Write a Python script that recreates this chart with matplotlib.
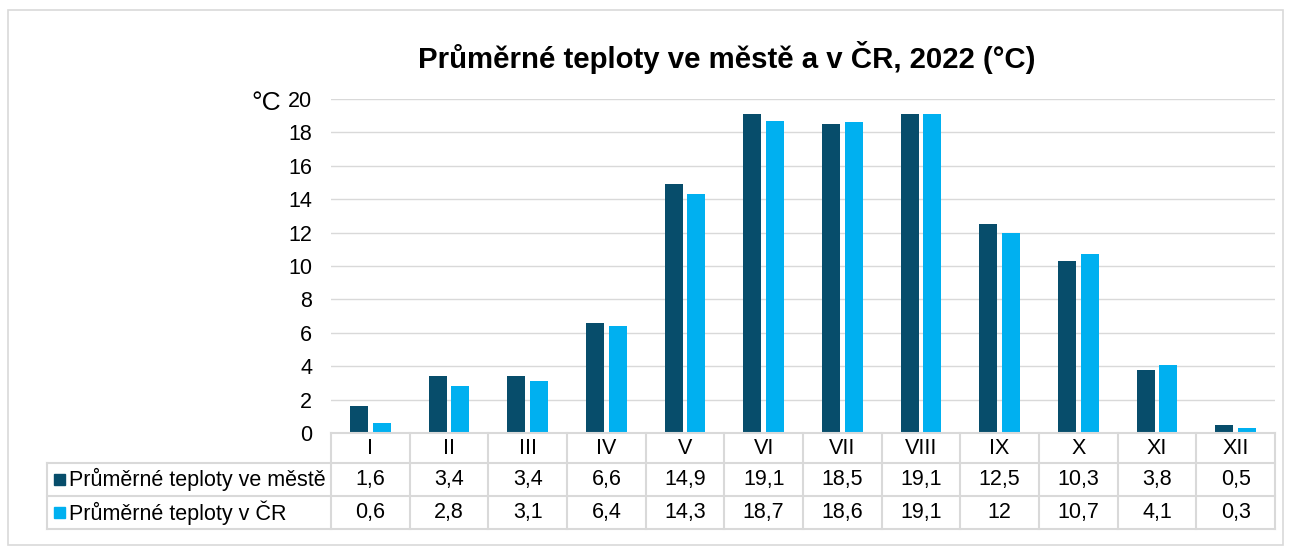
import matplotlib.pyplot as plt
from matplotlib.patches import Rectangle

plt.rcParams['font.family'] = ['Liberation Sans', 'DejaVu Sans']

# ── Data ───────────────────────────────────────────────────────────────────────
months = ["I", "II", "III", "IV", "V", "VI", "VII", "VIII", "IX", "X", "XI", "XII"]
city_temps = [1.6, 3.4, 3.4, 6.6, 14.9, 19.1, 18.5, 19.1, 12.5, 10.3, 3.8, 0.5]
cr_temps = [0.6, 2.8, 3.1, 6.4, 14.3, 18.7, 18.6, 19.1, 12, 10.7, 4.1, 0.3]
series_names = ["Průměrné teploty ve městě", "Průměrné teploty v ČR"]
colors = ["#074d6b", "#00b0f0"]
GRID = "#d9d9d9"
FS = 15.5

W, H = 1293, 556
fig = plt.figure(figsize=(W / 100, H / 100), dpi=100)


def px_axes(x0, y0, x1, y1):
    # pixel box (top-left origin) -> figure axes
    return fig.add_axes([x0 / W, 1 - y1 / H, (x1 - x0) / W, (y1 - y0) / H])


# outer frame
fig.patches.append(Rectangle((8 / W, 1 - 545 / H), 1275 / W, 535 / H,
                             transform=fig.transFigure, fill=False,
                             edgecolor=GRID, linewidth=1.2))

# ── Bar chart ─────────────────────────────────────────────────────────────────
X0, X1 = 331, 1275
ax = px_axes(X0, 99, X1, 433)
x = range(len(months))
bw = 0.23
gap = 0.03
ax.bar([i - bw / 2 - gap for i in x], city_temps, width=bw, color=colors[0], zorder=3)
ax.bar([i + bw / 2 + gap for i in x], cr_temps, width=bw, color=colors[1], zorder=3)
ax.set_xlim(-0.5, len(months) - 0.5)
ax.set_ylim(0, 20)
ax.set_yticks(range(0, 21, 2))
ax.tick_params(axis="y", length=0, labelsize=FS, pad=13.5)
ax.set_xticks([])
ax.grid(axis="y", color=GRID, linewidth=1, zorder=0)
for s in ax.spines.values():
    s.set_visible(False)

fig.text(251 / W, 1 - 103 / H, "°C", fontsize=19, ha="left", va="center")
fig.text(727 / W, 1 - 57 / H, "Průměrné teploty ve městě a v ČR, 2022 (°C)",
         ha="center", va="center", fontsize=21.2, fontweight="bold")

# ── Data table ────────────────────────────────────────────────────────────────
tax = px_axes(X0, 433, X1, 529)
tax.set_xlim(-0.5, len(months) - 0.5)
tax.set_ylim(96, 0)
tax.axis("off")
colw = (X1 - X0) / len(months)
left = -0.5 - (X0 - 47) / colw
rows = [0, 30, 63, 96]
lw = 1.5

# horizontal lines
tax.plot([-0.5, 11.5], [0, 0], color=GRID, lw=lw, clip_on=False)
for yy in rows[1:]:
    tax.plot([left, 11.5], [yy, yy], color=GRID, lw=lw, clip_on=False)
# vertical lines
for k in range(len(months) + 1):
    tax.plot([k - 0.5, k - 0.5], [0, 96], color=GRID, lw=lw, clip_on=False)
tax.plot([left, left], [30, 96], color=GRID, lw=lw, clip_on=False)

for i, m in enumerate(months):
    tax.text(i, 15, m, ha="center", va="center", fontsize=FS)
    tax.text(i, 46.5, f"{city_temps[i]:g}".replace(".", ","), ha="center", va="center", fontsize=FS)
    tax.text(i, 79.5, f"{cr_temps[i]:g}".replace(".", ","), ha="center", va="center", fontsize=FS)

for r, (name, col) in enumerate(zip(series_names, colors)):
    yc = 46.5 + 33 * r
    tax.add_patch(Rectangle((left + 7 / colw, yc - 5.5), 11 / colw, 11, color=col, clip_on=False))
    tax.text(left + 22 / colw, yc, name, ha="left", va="center", fontsize=FS)

fig.savefig("out.png", dpi=100)
